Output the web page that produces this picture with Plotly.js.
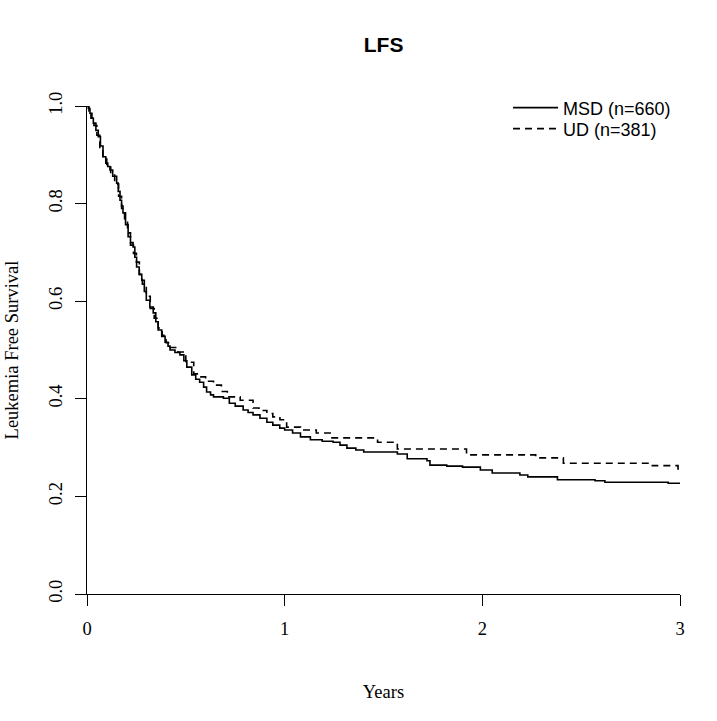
<!DOCTYPE html>
<html>
<head>
<meta charset="utf-8">
<script src="https://cdn.plot.ly/plotly-3.0.1.min.js"></script>
<style>html,body{margin:0;padding:0;background:#fff;}#chart{width:717px;height:721px;}</style>
</head>
<body>
<div id="chart"></div>
<script>
// Kaplan-Meier estimates
var msdTime = [0, 0.007, 0.015, 0.025, 0.032, 0.045, 0.057, 0.068, 0.081, 0.095, 0.105, 0.116, 0.13, 0.150, 0.158, 0.167, 0.175, 0.182, 0.195, 0.208, 0.22, 0.233, 0.242, 0.251, 0.264, 0.277, 0.29, 0.30, 0.318, 0.335, 0.348, 0.36, 0.378, 0.395, 0.41, 0.42, 0.445, 0.47, 0.49, 0.505, 0.53, 0.55, 0.57, 0.59, 0.605, 0.625, 0.64, 0.69, 0.72, 0.75, 0.79, 0.815, 0.84, 0.875, 0.91, 0.94, 0.975, 1.0, 1.04, 1.08, 1.13, 1.19, 1.245, 1.28, 1.315, 1.36, 1.40, 1.57, 1.62, 1.72, 1.735, 1.82, 1.90, 1.99, 2.05, 2.19, 2.23, 2.38, 2.57, 2.62, 2.94, 3.0];
var msdSurv = [1.0, 0.995, 0.985, 0.975, 0.965, 0.95, 0.937, 0.918, 0.896, 0.883, 0.876, 0.869, 0.856, 0.842, 0.825, 0.807, 0.795, 0.781, 0.757, 0.732, 0.72, 0.711, 0.69, 0.67, 0.655, 0.643, 0.62, 0.602, 0.588, 0.576, 0.558, 0.541, 0.528, 0.516, 0.508, 0.500, 0.495, 0.49, 0.478, 0.465, 0.449, 0.44, 0.434, 0.424, 0.414, 0.408, 0.404, 0.401, 0.391, 0.385, 0.377, 0.372, 0.367, 0.36, 0.352, 0.346, 0.340, 0.336, 0.330, 0.322, 0.316, 0.313, 0.311, 0.305, 0.299, 0.295, 0.291, 0.287, 0.277, 0.273, 0.264, 0.262, 0.260, 0.254, 0.248, 0.244, 0.240, 0.234, 0.232, 0.229, 0.227, 0.227];

var udTime = [0, 0.01, 0.02, 0.035, 0.05, 0.065, 0.08, 0.1, 0.12, 0.14, 0.16, 0.175, 0.19, 0.205, 0.22, 0.235, 0.25, 0.265, 0.28, 0.3, 0.32, 0.34, 0.36, 0.38, 0.40, 0.42, 0.46, 0.50, 0.54, 0.57, 0.60, 0.64, 0.68, 0.71, 0.775, 0.84, 0.87, 0.91, 0.94, 0.976, 1.01, 1.08, 1.16, 1.23, 1.47, 1.57, 1.92, 2.27, 2.41, 2.86, 2.99, 3.0];
var udSurv = [1.0, 0.99, 0.975, 0.96, 0.94, 0.915, 0.893, 0.88, 0.862, 0.84, 0.815, 0.79, 0.765, 0.74, 0.715, 0.698, 0.68, 0.655, 0.635, 0.61, 0.585, 0.565, 0.545, 0.53, 0.515, 0.505, 0.496, 0.475, 0.451, 0.445, 0.436, 0.428, 0.415, 0.404, 0.397, 0.381, 0.376, 0.37, 0.363, 0.357, 0.342, 0.336, 0.330, 0.320, 0.311, 0.297, 0.285, 0.279, 0.268, 0.263, 0.256, 0.256];

var seriesNames = ["MSD (n=660)", "UD (n=381)"];
var xTickVals = [0, 1, 2, 3];
var xTickText = ["0", "1", "2", "3"];
var yTickVals = [0, 0.2, 0.4, 0.6, 0.8, 1.0];
var yTickText = ["0.0", "0.2", "0.4", "0.6", "0.8", "1.0"];

var serif = "Liberation Serif, Times New Roman, serif";
var sans = "Liberation Sans, Arial, sans-serif";

var traces = [
  {x: msdTime, y: msdSurv, name: seriesNames[0], type: "scatter", mode: "lines",
   legend: "legend", line: {shape: "hv", color: "#000", width: 1.6}},
  {x: udTime, y: udSurv, name: seriesNames[1], type: "scatter", mode: "lines",
   legend: "legend2", line: {shape: "hv", color: "#000", width: 1.6, dash: "7px,5px"}}
];

var legendCommon = {
  xanchor: "left", yanchor: "top", bgcolor: "rgba(0,0,0,0)", borderwidth: 0,
  font: {family: sans, size: 18, color: "#000"}, itemwidth: 45
};

var layout = {
  width: 717, height: 721,
  margin: {l: 87, r: 37, t: 106, b: 127, pad: 0},
  paper_bgcolor: "#fff", plot_bgcolor: "#fff",
  title: {text: "<b>LFS</b>", font: {family: sans, size: 21, color: "#000"},
          x: 0.535, xanchor: "center", y: 1 - 45/721, yanchor: "middle"},
  xaxis: {range: [0, 3], tickvals: xTickVals, ticktext: xTickText,
          showgrid: false, zeroline: false, showline: true, linecolor: "#000", linewidth: 1,
          ticks: "outside", ticklen: 11, tickcolor: "#000", tickwidth: 1,
          ticklabelstandoff: 7,
          tickfont: {family: serif, size: 18.5, color: "#000"},
          title: {text: "Years", font: {family: serif, size: 18.5, color: "#000"}, standoff: 46}},
  yaxis: {range: [0, 1], tickvals: yTickVals, ticktext: yTickText, tickangle: -90,
          showgrid: false, zeroline: false, showline: true, linecolor: "#000", linewidth: 1,
          ticks: "outside", ticklen: 11, tickcolor: "#000", tickwidth: 1,
          ticklabelstandoff: 6,
          tickfont: {family: serif, size: 18.5, color: "#000"},
          title: {text: "Leukemia Free Survival", font: {family: serif, size: 18.5, color: "#000"}, standoff: 22}},
  showlegend: true,
  legend: Object.assign({x: 0.710, y: 1.034}, legendCommon),
  legend2: Object.assign({x: 0.710, y: 0.991}, legendCommon)
};

Plotly.newPlot("chart", traces, layout, {displayModeBar: false, staticPlot: true});
</script>
</body>
</html>
